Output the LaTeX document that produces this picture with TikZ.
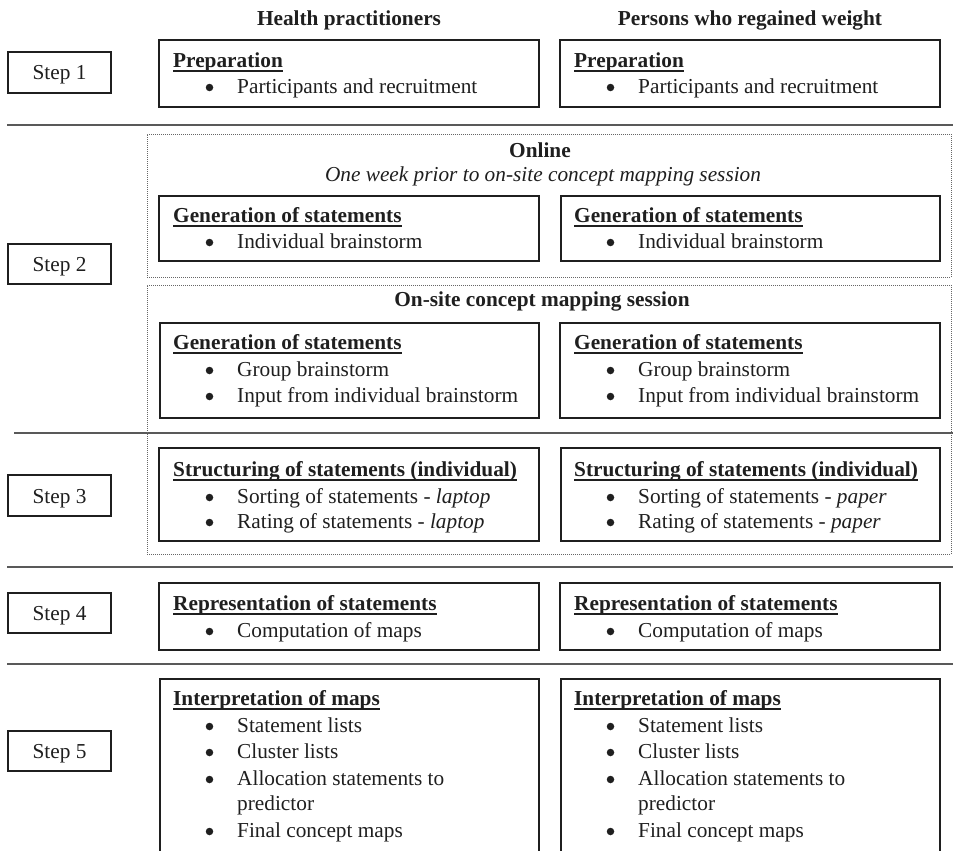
\documentclass[tikz,border=0pt]{standalone}
\usepackage{fontspec}
\setmainfont{Liberation Serif}
\usetikzlibrary{fit}
\newlength\hdw
\newcommand\hdl[1]{\settowidth\hdw{\textbf{#1}}\textbf{#1}\llap{\rule[-4.5pt]{\hdw}{2pt}}}
\colorlet{ink}{black!88}
% bullet line: name, x-offset, baseline y, text
\newcommand\bline[4]{%
  \node[bul] (#1b) at ({209.5+#2},{#3-5.5}) {};
  \node[tl] (#1) at ({237+#2},#3) {#4};}
% heading: name, x-offset, baseline y, text
\newcommand\hdline[4]{\node[tl] (#1) at ({173+#2},#3) {\hdl{#4}};}
\begin{document}
\begin{tikzpicture}[x=1pt,y=-1pt,
  every node/.style={font=\fontsize{21.3pt}{26pt}\selectfont, text=ink, inner sep=0pt},
  box/.style={draw=ink, line width=1.3pt, inner sep=0pt},
  grp/.style={draw=black!60, line width=1pt, dash pattern=on 1pt off 1pt, inner sep=0pt},
  sep/.style={draw=black!65, line width=1.3pt},
  tl/.style={anchor=base west},
  bul/.style={circle, fill=ink, minimum size=7.5pt, anchor=center},
  ctr/.style={anchor=base},
]
\useasboundingbox (0,0) rectangle (953,851);
\clip (0,0) rectangle (953,851);
\fill[white] (0,0) rectangle (953,851);

% column headers
\node[ctr] (hHP) at (349,26) {\textbf{Health practitioners}};
\node[ctr] (hPW) at (750,26) {\textbf{Persons who regained weight}};

% separator lines
\coordinate (l1a) at (7,125);  \coordinate (l1b) at (953,125);
\coordinate (l2a) at (14,433); \coordinate (l2b) at (953,433);
\coordinate (l3a) at (7,567);  \coordinate (l3b) at (953,567);
\coordinate (l4a) at (7,664);  \coordinate (l4b) at (953,664);
\draw[sep] (l1a) -- (l1b);
\draw[sep] (l2a) -- (l2b);
\draw[sep] (l3a) -- (l3b);
\draw[sep] (l4a) -- (l4b);

% step boxes
\node[box, fit={(8,52)(111,93)}] (s1) {};
\node[ctr] (s1t) at (59.5,80) {Step 1};
\node[box, fit={(8,244)(111,284)}] (s2) {};
\node[ctr] (s2t) at (59.5,271.5) {Step 2};
\node[box, fit={(8,475)(111,516)}] (s3) {};
\node[ctr] (s3t) at (59.5,503) {Step 3};
\node[box, fit={(8,593)(111,633)}] (s4) {};
\node[ctr] (s4t) at (59.5,620.5) {Step 4};
\node[box, fit={(8,731)(111,771)}] (s5) {};
\node[ctr] (s5t) at (59.5,758.5) {Step 5};

% ---- Step 1: preparation
\node[box, fit={(159,40)(539,107)}] (p1L) {};
\node[box, fit={(560,40)(940,107)}] (p1R) {};
\hdline{p1Lh}{0}{67}{Preparation}
\bline{p1La}{0}{93}{Participants and recruitment}
\hdline{p1Rh}{401}{67}{Preparation}
\bline{p1Ra}{401}{93}{Participants and recruitment}

% ---- Step 2: online
\node[grp, fit={(147,134)(951,277)}] (gOn) {};
\node[ctr] (gOnT) at (540,157) {\textbf{Online}};
\node[ctr] (gOnS) at (543,181) {\textit{One week prior to on-site concept mapping session}};
\node[box, fit={(159,196)(539,261)}] (p2L) {};
\node[box, fit={(561,196)(940,261)}] (p2R) {};
\hdline{p2Lh}{0}{222}{Generation of statements}
\bline{p2La}{0}{248}{Individual brainstorm}
\hdline{p2Rh}{401}{222}{Generation of statements}
\bline{p2Ra}{401}{248}{Individual brainstorm}

% ---- on-site session
\node[grp, fit={(147,285)(951,554)}] (gOs) {};
\node[ctr] (gOsT) at (542,306) {\textbf{On-site concept mapping session}};
\node[box, fit={(160,323)(539,418)}] (p3L) {};
\node[box, fit={(560,323)(940,418)}] (p3R) {};
\hdline{p3Lh}{0}{349}{Generation of statements}
\bline{p3La}{0}{376}{Group brainstorm}
\bline{p3Lb}{0}{402}{Input from individual brainstorm}
\hdline{p3Rh}{401}{349}{Generation of statements}
\bline{p3Ra}{401}{376}{Group brainstorm}
\bline{p3Rb}{401}{402}{Input from individual brainstorm}

% ---- Step 3: structuring
\node[box, fit={(159,448)(539,541)}] (p4L) {};
\node[box, fit={(561,448)(940,541)}] (p4R) {};
\hdline{p4Lh}{0}{476}{Structuring of statements (individual)}
\bline{p4La}{0}{503}{Sorting of statements - \textit{laptop}}
\bline{p4Lb}{0}{528}{Rating of statements - \textit{laptop}}
\hdline{p4Rh}{401}{476}{Structuring of statements (individual)}
\bline{p4Ra}{401}{503}{Sorting of statements - \textit{paper}}
\bline{p4Rb}{401}{528}{Rating of statements - \textit{paper}}

% ---- Step 4: representation
\node[box, fit={(159,583)(539,650)}] (p5L) {};
\node[box, fit={(560,583)(940,650)}] (p5R) {};
\hdline{p5Lh}{0}{610}{Representation of statements}
\bline{p5La}{0}{637}{Computation of maps}
\hdline{p5Rh}{401}{610}{Representation of statements}
\bline{p5Ra}{401}{637}{Computation of maps}

% ---- Step 5: interpretation
\node[box, fit={(160,679)(539,880)}] (p6L) {};
\node[box, fit={(561,679)(940,880)}] (p6R) {};
\hdline{p6Lh}{0}{705}{Interpretation of maps}
\bline{p6La}{0}{732}{Statement lists}
\bline{p6Lb}{0}{758}{Cluster lists}
\bline{p6Lc}{0}{785}{Allocation statements to}
\node[tl] (p6Lc2) at (237,810) {predictor};
\bline{p6Ld}{0}{837}{Final concept maps}
\hdline{p6Rh}{401}{705}{Interpretation of maps}
\bline{p6Ra}{401}{732}{Statement lists}
\bline{p6Rb}{401}{758}{Cluster lists}
\bline{p6Rc}{401}{785}{Allocation statements to}
\node[tl] (p6Rc2) at (638,810) {predictor};
\bline{p6Rd}{401}{837}{Final concept maps}
\end{tikzpicture}
\end{document}
